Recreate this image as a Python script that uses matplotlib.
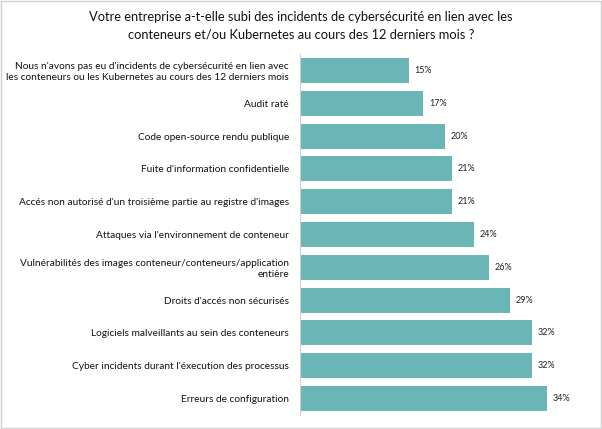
import matplotlib.pyplot as plt
from matplotlib.patches import Rectangle

plt.rcParams['font.family'] = ['Lato', 'DejaVu Sans']

categories = [
    "Nous n'avons pas eu d'incidents de cybersécurité en lien avec\nles conteneurs ou les Kubernetes au cours des 12 derniers mois",
    "Audit raté",
    "Code open-source rendu publique",
    "Fuite d'information confidentielle",
    "Accés non autorisé d'un troisième partie au registre d'images",
    "Attaques via l'environnement de conteneur",
    "Vulnérabilités des images conteneur/conteneurs/application\nentière",
    "Droits d'accés non sécurisés",
    "Logiciels malveillants au sein des conteneurs",
    "Cyber incidents durant l'éxecution des processus",
    "Erreurs de configuration",
]
values = [15, 17, 20, 21, 21, 24, 26, 29, 32, 32, 34]

fig = plt.figure(figsize=(6.02, 4.29), dpi=100)
fig.patches.append(Rectangle((0.002, 0.002), 0.996, 0.996, transform=fig.transFigure,
                             fill=False, edgecolor='#d0d0d0', linewidth=1))
ax = fig.add_axes([300 / 602, 14 / 429, 290 / 602, 361 / 429])

y = list(range(len(values)))
ax.barh(y, values, height=0.76, color='#6ab5b5')
for yi, v in zip(y, values):
    ax.text(v + 0.8, yi, f"{v}%", va='center', ha='left', fontsize=6.5, color='#222222')

ax.set_yticks(y)
ax.set_yticklabels(categories, fontsize=7.3, color='#111111')
ax.invert_yaxis()
ax.set_ylim(len(values) - 0.5, -0.5)
ax.set_xlim(0, 40)
ax.set_xticks([])
ax.tick_params(axis='y', length=0, pad=8)
for s in ['top', 'right', 'bottom']:
    ax.spines[s].set_visible(False)
ax.spines['left'].set_color('#d0d0d0')

fig.text(0.5, 0.94, "Votre entreprise a-t-elle subi des incidents de cybersécurité en lien avec les\n"
         "conteneurs et/ou Kubernetes au cours des 12 derniers mois ?",
         ha='center', va='center', fontsize=9.3, color='#111111', linespacing=1.5)

fig.savefig('out.png', dpi=100)
